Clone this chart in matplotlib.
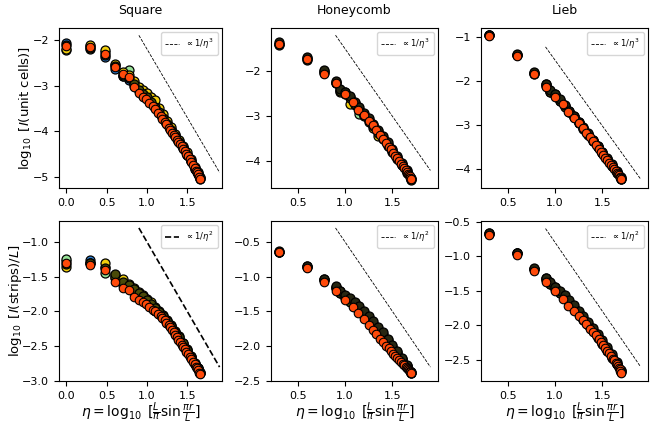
import matplotlib
matplotlib.use('Agg')
import matplotlib.pyplot as plt
import matplotlib.ticker as ticker

# Chord distances eta for the largest system (drawn on top in orange-red)
ETA_SQ = [0.00, 0.30, 0.48, 0.60, 0.70, 0.78, 0.84, 0.90, 0.95, 0.99,
          1.03, 1.07, 1.10, 1.14, 1.17, 1.19, 1.22, 1.24, 1.27, 1.29,
          1.31, 1.33, 1.35, 1.37, 1.39, 1.41, 1.43, 1.45, 1.47, 1.49,
          1.51, 1.53, 1.55, 1.57, 1.59, 1.61, 1.62, 1.63, 1.65, 1.66]
ETA_HL = [0.30, 0.60, 0.78, 0.90, 1.00, 1.08, 1.14, 1.20, 1.25, 1.29,
          1.33, 1.37, 1.40, 1.43, 1.46, 1.48, 1.51, 1.53, 1.55, 1.57,
          1.59, 1.61, 1.62, 1.64, 1.65, 1.66, 1.67, 1.68, 1.69, 1.70]

# Chord distances for the smaller systems
ETA_SQ_B = [0.00, 0.30, 0.48, 0.60, 0.70, 0.78, 0.84, 0.90, 0.95, 1.00,
            1.05, 1.10, 1.15, 1.20, 1.25, 1.30, 1.35, 1.40, 1.45, 1.50,
            1.55, 1.60, 1.63, 1.66]
ETA_HL_B = [0.30, 0.60, 0.78, 0.90, 0.95, 1.00, 1.05, 1.10, 1.15, 1.20,
            1.25, 1.30, 1.35, 1.40, 1.45, 1.50, 1.55, 1.60, 1.65, 1.70]

# Square, log10 I per unit cell
SQ_CELL_MAIN = [-2.14, -2.16, -2.30, -2.60, -2.74, -2.82, -3.02, -3.17, -3.24, -3.30,
                -3.38, -3.45, -3.52, -3.60, -3.67, -3.72, -3.80, -3.85, -3.93, -3.98,
                -4.03, -4.08, -4.13, -4.18, -4.23, -4.28, -4.33, -4.38, -4.43, -4.49,
                -4.55, -4.61, -4.67, -4.73, -4.80, -4.87, -4.90, -4.94, -5.00, -5.04]
SQ_CELL_BLUE = [-2.06, -2.13, -2.38, -2.63, -2.80, -2.88, -3.00, -3.12, -3.22, -3.28,
                -3.36, -3.47, -3.57, -3.70, -3.84, -3.97, -4.10, -4.23, -4.37, -4.51,
                -4.66, -4.82, -4.93, -5.03]
SQ_CELL_GREEN = [-2.22, -2.20, -2.27, -2.56, -2.78, -2.66, -2.95, -3.06, -3.14, -3.24,
                 -3.32, -3.44, -3.56, -3.69, -3.82, -3.95, -4.08, -4.21, -4.35, -4.49,
                 -4.64, -4.80, -4.91, -5.02]
SQ_CELL_GOLD = [-2.19, -2.12, -2.22, -2.52, -2.70, -2.77, -2.90, -3.02, -3.10, -3.17,
                -3.24, -3.32, -3.48, -3.62, -3.77, -3.91, -4.05, -4.18, -4.32, -4.46,
                -4.61, -4.78, -4.89, -5.01]
SQ_CELL_DARK = [-2.11, -2.18, -2.34, -2.57, -2.76, -2.84, -2.97, -3.09, -3.19, -3.26,
                -3.35, -3.46, -3.58, -3.71, -3.84, -3.97, -4.10, -4.23, -4.37, -4.51,
                -4.66, -4.82, -4.94, -5.05]

# Honeycomb, log10 I per unit cell
HC_CELL_MAIN = [-1.39, -1.72, -2.07, -2.27, -2.51, -2.68, -2.85, -2.97, -3.10, -3.20,
                -3.31, -3.42, -3.50, -3.59, -3.67, -3.73, -3.81, -3.87, -3.93, -3.99,
                -4.05, -4.11, -4.14, -4.20, -4.23, -4.27, -4.30, -4.33, -4.37, -4.40]
HC_CELL_GREEN = [-1.40, -1.70, -2.00, -2.24, -2.42, -2.47, -2.58, -2.70, -2.95, -2.98,
                 -3.08, -3.20, -3.33, -3.47, -3.61, -3.75, -3.90, -4.05, -4.21, -4.38]
HC_CELL_GOLD = [-1.40, -1.73, -2.04, -2.26, -2.45, -2.50, -2.72, -2.75, -2.86, -2.99,
                -3.12, -3.25, -3.44, -3.51, -3.65, -3.80, -3.94, -4.09, -4.25, -4.41]
HC_CELL_DARK_B = [-1.41, -1.74, -2.02, -2.25, -2.44, -2.48, -2.60, -2.72, -2.84, -2.96,
                  -3.09, -3.22, -3.36, -3.49, -3.63, -3.77, -3.92, -4.07, -4.23, -4.39]
HC_CELL_DARK_A = [-1.36, -1.68, -1.98, -2.22, -2.40, -2.45, -2.55, -2.68, -2.80, -2.92,
                  -3.04, -3.17, -3.31, -3.44, -3.58, -3.72, -3.87, -4.03, -4.19, -4.36]

# Lieb, log10 I per unit cell
LB_CELL_MAIN = [-0.98, -1.44, -1.85, -2.15, -2.36, -2.53, -2.70, -2.85, -2.96, -3.07,
                -3.18, -3.29, -3.38, -3.47, -3.55, -3.61, -3.69, -3.75, -3.80, -3.86,
                -3.92, -3.97, -4.00, -4.06, -4.09, -4.12, -4.15, -4.18, -4.21, -4.24]
LB_CELL_GREEN = [-0.96, -1.41, -1.82, -2.07, -2.24, -2.31, -2.44, -2.57, -2.70, -2.82,
                 -2.95, -3.08, -3.22, -3.36, -3.50, -3.64, -3.78, -3.93, -4.08, -4.23]
LB_CELL_GOLD = [-0.97, -1.42, -1.84, -2.10, -2.25, -2.32, -2.45, -2.58, -2.68, -2.81,
                -2.94, -3.07, -3.21, -3.35, -3.49, -3.63, -3.77, -3.92, -4.07, -4.22]
LB_CELL_DARK_B = [-0.97, -1.42, -1.83, -2.12, -2.26, -2.33, -2.46, -2.59, -2.71, -2.83,
                  -2.96, -3.09, -3.23, -3.37, -3.51, -3.65, -3.79, -3.94, -4.09, -4.24]
LB_CELL_DARK_A = [-0.95, -1.40, -1.81, -2.08, -2.22, -2.30, -2.42, -2.55, -2.68, -2.80,
                  -2.93, -3.06, -3.20, -3.34, -3.48, -3.62, -3.76, -3.90, -4.05, -4.20]

# Square, log10 I(strips)/L
SQ_STRIP_MAIN = [-1.30, -1.33, -1.41, -1.57, -1.67, -1.69, -1.79, -1.84, -1.87, -1.89,
                 -1.93, -1.98, -2.00, -2.03, -2.06, -2.09, -2.12, -2.16, -2.19, -2.22,
                 -2.26, -2.30, -2.34, -2.37, -2.41, -2.44, -2.48, -2.51, -2.54, -2.58,
                 -2.61, -2.65, -2.68, -2.72, -2.76, -2.80, -2.82, -2.84, -2.88, -2.90]
SQ_STRIP_BLUE = [-1.28, -1.26, -1.36, -1.52, -1.62, -1.66, -1.74, -1.78, -1.82, -1.88,
                 -1.94, -2.00, -2.04, -2.10, -2.16, -2.22, -2.31, -2.39, -2.48, -2.57,
                 -2.66, -2.76, -2.83, -2.89]
SQ_STRIP_GREEN = [-1.25, -1.31, -1.45, -1.48, -1.58, -1.63, -1.70, -1.75, -1.80, -1.85,
                  -1.91, -1.97, -2.02, -2.08, -2.14, -2.21, -2.30, -2.38, -2.47, -2.56,
                  -2.65, -2.75, -2.82, -2.88]
SQ_STRIP_GOLD = [-1.36, -1.30, -1.30, -1.50, -1.54, -1.60, -1.67, -1.72, -1.76, -1.82,
                 -1.87, -1.93, -1.99, -2.05, -2.12, -2.19, -2.28, -2.36, -2.45, -2.54,
                 -2.64, -2.74, -2.81, -2.87]
SQ_STRIP_DARK = [-1.32, -1.30, -1.38, -1.46, -1.58, -1.62, -1.68, -1.73, -1.78, -1.84,
                 -1.89, -1.95, -2.01, -2.07, -2.14, -2.21, -2.29, -2.37, -2.46, -2.55,
                 -2.65, -2.75, -2.82, -2.89]

# Honeycomb, log10 I(strips)/L
HC_STRIP_MAIN = [-0.65, -0.88, -1.08, -1.21, -1.34, -1.44, -1.52, -1.61, -1.69, -1.76,
                 -1.83, -1.89, -1.94, -1.99, -2.03, -2.07, -2.11, -2.14, -2.17, -2.20,
                 -2.23, -2.25, -2.27, -2.30, -2.31, -2.33, -2.34, -2.36, -2.37, -2.39]
HC_STRIP_GREEN = [-0.64, -0.86, -1.05, -1.17, -1.23, -1.29, -1.35, -1.41, -1.48, -1.55,
                  -1.62, -1.70, -1.78, -1.86, -1.94, -2.02, -2.10, -2.19, -2.28, -2.38]
HC_STRIP_GOLD = [-0.64, -0.85, -1.04, -1.15, -1.20, -1.28, -1.33, -1.38, -1.45, -1.52,
                 -1.59, -1.67, -1.75, -1.83, -1.91, -2.00, -2.09, -2.18, -2.28, -2.37]
HC_STRIP_DARK_B = [-0.64, -0.86, -1.05, -1.16, -1.24, -1.30, -1.36, -1.43, -1.50, -1.57,
                   -1.64, -1.72, -1.80, -1.87, -1.95, -2.03, -2.11, -2.20, -2.29, -2.38]
HC_STRIP_DARK_A = [-0.63, -0.84, -1.03, -1.14, -1.21, -1.26, -1.30, -1.36, -1.42, -1.49,
                   -1.56, -1.64, -1.72, -1.80, -1.89, -1.98, -2.07, -2.17, -2.27, -2.37]

# Lieb, log10 I(strips)/L
LB_STRIP_MAIN = [-0.69, -0.98, -1.21, -1.37, -1.51, -1.62, -1.72, -1.80, -1.87, -1.93,
                 -1.99, -2.05, -2.10, -2.15, -2.20, -2.24, -2.29, -2.33, -2.37, -2.41,
                 -2.45, -2.49, -2.51, -2.55, -2.57, -2.59, -2.62, -2.64, -2.66, -2.69]
LB_STRIP_GREEN = [-0.67, -0.96, -1.18, -1.33, -1.39, -1.46, -1.53, -1.60, -1.67, -1.75,
                  -1.83, -1.91, -1.99, -2.08, -2.17, -2.26, -2.36, -2.46, -2.56, -2.67]
LB_STRIP_GOLD = [-0.68, -0.96, -1.18, -1.31, -1.40, -1.45, -1.52, -1.59, -1.66, -1.74,
                 -1.82, -1.90, -1.98, -2.07, -2.16, -2.25, -2.35, -2.45, -2.56, -2.67]
LB_STRIP_DARK_B = [-0.68, -0.96, -1.19, -1.34, -1.41, -1.47, -1.54, -1.61, -1.68, -1.76,
                   -1.84, -1.92, -2.00, -2.09, -2.18, -2.27, -2.37, -2.47, -2.57, -2.68]
LB_STRIP_DARK_A = [-0.67, -0.95, -1.17, -1.32, -1.38, -1.44, -1.50, -1.57, -1.64, -1.71,
                   -1.79, -1.87, -1.95, -2.04, -2.13, -2.22, -2.32, -2.42, -2.53, -2.65]

# Power-law guides: eta endpoints and log10 values at those endpoints
GUIDE_ETA = [0.9, 1.9]
GUIDE_SQ_CELL = [-1.90, -4.90]
GUIDE_HC_CELL = [-1.20, -4.20]
GUIDE_LB_CELL = [-1.23, -4.23]
GUIDE_SQ_STRIP = [-0.80, -2.80]
GUIDE_HC_STRIP = [-0.30, -2.30]
GUIDE_LB_STRIP = [-0.60, -2.60]

TITLES = ['Square', 'Honeycomb', 'Lieb']

BLUE, GREEN, GOLD = '#2b7fd4', '#96e096', '#f2cf0c'
DARK, DARKER = '#4a4a08', '#262612'
MAIN = '#ff4a0a'

FIG_W, FIG_H = 665, 429


def add_axes(fig, left, right, top, bottom):
    """ Place an axes from pixel edges.
    """
    return fig.add_axes([left / FIG_W, 1 - bottom / FIG_H,
                         (right - left) / FIG_W, (bottom - top) / FIG_H])


def draw_panel(ax, main, background, guide, guide_label, guide_lw, xlim, ylim,
               y_step):
    """ Scatter every system size, then the largest one, and the guide line.
    """
    eta_main, y_main = main
    for eta, y, color in background:
        ax.scatter(eta, y, s=42, c=color, edgecolors='black', linewidths=0.9,
                   zorder=2)
    ax.scatter(eta_main, y_main, s=38, c=MAIN, edgecolors='black',
               linewidths=0.8, zorder=3)
    ax.plot(GUIDE_ETA, guide, ls='--', color='black', lw=guide_lw,
            label=guide_label, zorder=1)
    ax.set_xlim(*xlim)
    ax.set_ylim(*ylim)
    ax.xaxis.set_major_locator(ticker.MultipleLocator(0.5))
    ax.yaxis.set_major_locator(ticker.MultipleLocator(y_step))
    ax.tick_params(labelsize=8)
    ax.legend(loc='upper right', fontsize=6, handlelength=1.6,
              borderpad=0.5)


fig = plt.figure(figsize=(FIG_W / 100, FIG_H / 100), dpi=100)

cols = [(59, 222), (271, 438), (481, 648)]
rows = [(28, 188), (221, 381)]

axes = [[add_axes(fig, c[0], c[1], r[0], r[1]) for c in cols] for r in rows]

label3 = r'$\propto 1/\eta^3$'
label2 = r'$\propto 1/\eta^2$'

draw_panel(axes[0][0], (ETA_SQ, SQ_CELL_MAIN),
           [(ETA_SQ_B, SQ_CELL_BLUE, BLUE), (ETA_SQ_B, SQ_CELL_GREEN, GREEN),
            (ETA_SQ_B, SQ_CELL_GOLD, GOLD), (ETA_SQ_B, SQ_CELL_DARK, DARK)],
           GUIDE_SQ_CELL, label3, 0.6, (-0.09, 1.93), (-5.24, -1.74), 1)
draw_panel(axes[0][1], (ETA_HL, HC_CELL_MAIN),
           [(ETA_HL_B, HC_CELL_GREEN, GREEN), (ETA_HL_B, HC_CELL_GOLD, GOLD),
            (ETA_HL_B, HC_CELL_DARK_B, DARK), (ETA_HL_B, HC_CELL_DARK_A, DARKER)],
           GUIDE_HC_CELL, label3, 0.6, (0.22, 1.98), (-4.59, -1.04), 1)
draw_panel(axes[0][2], (ETA_HL, LB_CELL_MAIN),
           [(ETA_HL_B, LB_CELL_GREEN, GREEN), (ETA_HL_B, LB_CELL_GOLD, GOLD),
            (ETA_HL_B, LB_CELL_DARK_B, DARK), (ETA_HL_B, LB_CELL_DARK_A, DARKER)],
           GUIDE_LB_CELL, label3, 0.6, (0.22, 1.98), (-4.44, -0.80), 1)

draw_panel(axes[1][0], (ETA_SQ, SQ_STRIP_MAIN),
           [(ETA_SQ_B, SQ_STRIP_BLUE, BLUE), (ETA_SQ_B, SQ_STRIP_GREEN, GREEN),
            (ETA_SQ_B, SQ_STRIP_GOLD, GOLD), (ETA_SQ_B, SQ_STRIP_DARK, DARK)],
           GUIDE_SQ_STRIP, label2, 1.2, (-0.09, 1.93), (-3.0, -0.70), 0.5)
draw_panel(axes[1][1], (ETA_HL, HC_STRIP_MAIN),
           [(ETA_HL_B, HC_STRIP_GREEN, GREEN), (ETA_HL_B, HC_STRIP_GOLD, GOLD),
            (ETA_HL_B, HC_STRIP_DARK_B, DARK), (ETA_HL_B, HC_STRIP_DARK_A, DARKER)],
           GUIDE_HC_STRIP, label2, 0.6, (0.22, 1.98), (-2.5, -0.20), 0.5)
draw_panel(axes[1][2], (ETA_HL, LB_STRIP_MAIN),
           [(ETA_HL_B, LB_STRIP_GREEN, GREEN), (ETA_HL_B, LB_STRIP_GOLD, GOLD),
            (ETA_HL_B, LB_STRIP_DARK_B, DARK), (ETA_HL_B, LB_STRIP_DARK_A, DARKER)],
           GUIDE_LB_STRIP, label2, 0.6, (0.22, 1.98), (-2.81, -0.49), 0.5)

for ax, title in zip(axes[0], TITLES):
    ax.set_title(title, fontsize=9, pad=10)

axes[0][0].set_ylabel(r'$\log_{10}$ [$I$(unit cells)]', fontsize=9.5)
axes[0][0].yaxis.set_label_coords(-0.155, 0.5)
axes[1][0].set_ylabel(r'$\log_{10}$ [$I$(strips)/$L$]', fontsize=9.5)
axes[1][0].yaxis.set_label_coords(-0.215, 0.5)
for ax in axes[1]:
    ax.set_xlabel(r'$\eta = \log_{10}$ [$\frac{L}{\pi}\sin\frac{\pi r}{L}$]',
                  fontsize=10, labelpad=0)

fig.savefig('out.png', dpi=100)
